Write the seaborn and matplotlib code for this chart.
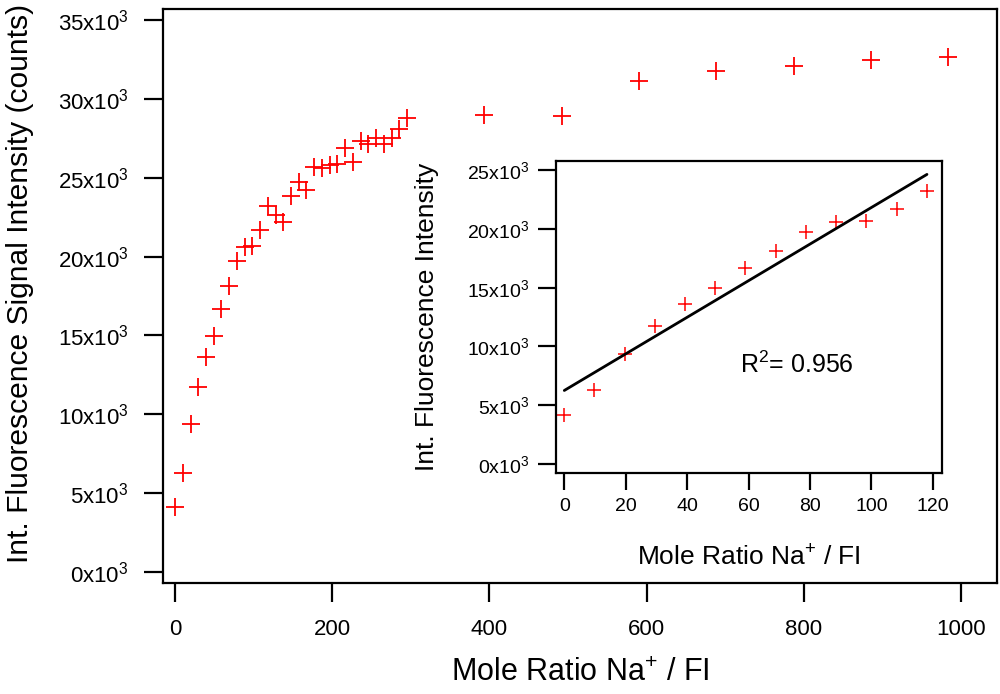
import numpy as np
import pandas as pd
import matplotlib
matplotlib.use("Agg")
import matplotlib.pyplot as plt
import seaborn as sns
from matplotlib.ticker import FuncFormatter, FixedLocator

# ---- data ----
mole_ratio = [0, 9.8, 19.7, 29.5, 39.4, 49.2, 59.0, 68.9, 78.7, 88.6, 98.4,
              108.2, 118.1, 127.9, 137.8, 147.6, 157.4, 167.3, 177.1, 187.0,
              196.8, 206.6, 216.5, 226.3, 236.2, 246.0, 255.8, 265.7, 275.5,
              285.4, 295.2, 393.6, 492.0, 590.4, 688.8, 787.2, 885.6, 984.0]
intensity = [4140, 6260, 9380, 11700, 13650, 14950, 16690, 18110, 19700, 20600,
             20690, 21690, 23210, 22650, 22170, 23850, 24700, 24240, 25650,
             25640, 25780, 25880, 26900, 25990, 27330, 27120, 27540, 27120,
             27500, 28090, 28770, 28980, 28920, 31130, 31770, 32090, 32470,
             32660]
inset_count = 13  # first points shown in the inset (0 .. ~118)

main_xticks = [0, 200, 400, 600, 800, 1000]
main_yticks = [0, 5000, 10000, 15000, 20000, 25000, 30000, 35000]
inset_xticks = [0, 20, 40, 60, 80, 100, 120]
inset_yticks = [0, 5000, 10000, 15000, 20000, 25000]

main_xlabel = "Mole Ratio Na$^{+}$ / FI"
main_ylabel = "Int. Fluorescence Signal Intensity (counts)"
inset_xlabel = "Mole Ratio Na$^{+}$ / FI"
inset_ylabel = "Int. Fluorescence Intensity"
r2_text = "R$^{2}$= 0.956"

# ---- style ----
sns.set_style("ticks")
plt.rcParams['font.family'] = ['Liberation Sans', 'DejaVu Sans']
plt.rcParams['mathtext.fontset'] = 'custom'
plt.rcParams['mathtext.rm'] = 'Liberation Sans'
plt.rcParams['mathtext.it'] = 'Liberation Sans:italic'
plt.rcParams['mathtext.bf'] = 'Liberation Sans:bold'
plt.rcParams['mathtext.default'] = 'regular'
for key in ['text.color', 'axes.labelcolor', 'xtick.color', 'ytick.color',
            'axes.edgecolor']:
    plt.rcParams[key] = 'black'

RED = '#ff0000'

df = pd.DataFrame({'ratio': mole_ratio, 'intensity': intensity})
df_in = df.iloc[:inset_count]

fmt_k = FuncFormatter(lambda v, p: f"{int(round(v / 1000))}x10$^{{3}}$")

fig = plt.figure(figsize=(10, 6.94), dpi=100)

# ---- main axes ----
ax = fig.add_axes([0.163, 0.160, 0.834, 0.827])
sns.scatterplot(data=df, x='ratio', y='intensity', marker='+', s=160,
                color=RED, linewidth=1.3, ax=ax, legend=False)
ax.set_xlim(-15.3, 1046)
ax.set_ylim(-700, 35700)
ax.xaxis.set_major_locator(FixedLocator(main_xticks))
ax.yaxis.set_major_locator(FixedLocator(main_yticks))
ax.yaxis.set_major_formatter(fmt_k)
ax.tick_params(axis='x', direction='out', length=14, width=1.6,
               labelsize=16, pad=12, color='black', labelcolor='black')
ax.tick_params(axis='y', direction='out', length=14, width=1.6,
               labelsize=16, pad=11, color='black', labelcolor='black')
for s in ax.spines.values():
    s.set_visible(True)
    s.set_linewidth(1.6)
    s.set_color('black')
ax.set_xlabel(main_xlabel, fontsize=22, va='center', color='black')
ax.xaxis.set_label_coords(0.5, -0.157)
ax.set_ylabel(main_ylabel, fontsize=21.6, va='center', color='black')
ax.yaxis.set_label_coords(-0.1715, 0.522)

# ---- inset axes ----
ax2 = fig.add_axes([0.5557, 0.3189, 0.386, 0.449])
ax2.set_facecolor('white')
sns.regplot(data=df_in, x='ratio', y='intensity', scatter=False, ci=None,
            truncate=True, color='black', line_kws={'linewidth': 2.0}, ax=ax2)
sns.scatterplot(data=df_in, x='ratio', y='intensity', marker='+', s=90,
                color=RED, linewidth=1.1, ax=ax2, legend=False)
ax2.set_xlim(-2.8, 122.9)
ax2.set_ylim(-740, 25770)
ax2.xaxis.set_major_locator(FixedLocator(inset_xticks))
ax2.yaxis.set_major_locator(FixedLocator(inset_yticks))
ax2.yaxis.set_major_formatter(fmt_k)
ax2.tick_params(axis='x', direction='out', length=12.5, width=1.6,
                labelsize=14, pad=6, color='black', labelcolor='black')
ax2.tick_params(axis='y', direction='out', length=13, width=1.6,
                labelsize=14, pad=6, color='black', labelcolor='black')
for s in ax2.spines.values():
    s.set_visible(True)
    s.set_linewidth(1.6)
    s.set_color('black')
ax2.set_xlabel(inset_xlabel, fontsize=19, va='center', color='black')
ax2.xaxis.set_label_coords(0.5, -0.274)
ax2.set_ylabel(inset_ylabel, fontsize=19, va='center', color='black')
ax2.yaxis.set_label_coords(-0.333, 0.5)
ax2.text(75.8, 8400, r2_text, fontsize=18, ha='center', va='center',
         color='black')

fig.savefig('out.png', dpi=100)
